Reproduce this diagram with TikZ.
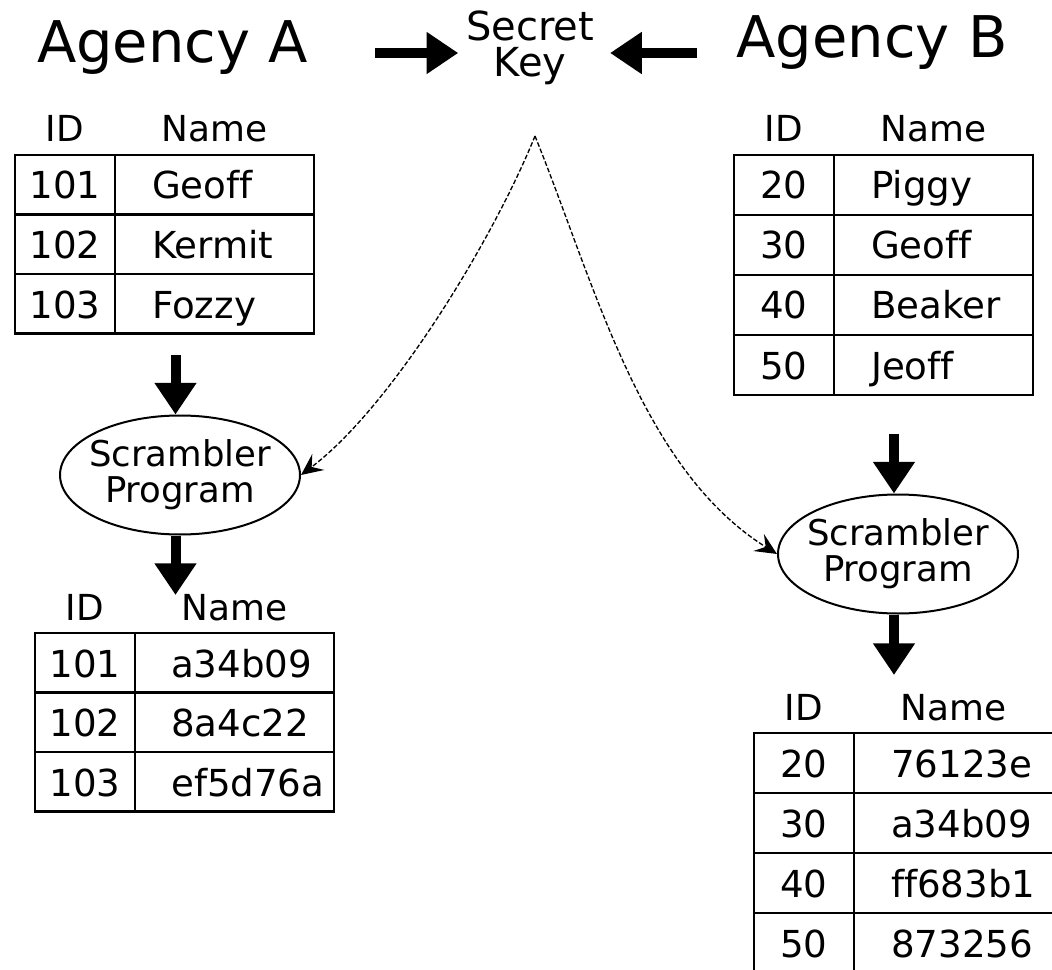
\documentclass[tikz,border=0pt]{standalone}
\usepackage{fontspec}
\setmainfont{DejaVu Sans}[Ligatures=NoCommon]
\usetikzlibrary{arrows.meta, shapes.geometric, calc}
\tikzset{
  every picture/.style={x=0.6pt, y=-0.6pt, line width=1.4pt},
  title/.style={font=\fontsize{34.5}{40}\selectfont, anchor=base, inner sep=0pt},
  keytext/.style={font=\fontsize{24}{21.8}\selectfont, align=center, inner ysep=0pt, inner xsep=4pt},
  colhead/.style={font=\fontsize{21.5}{26}\selectfont, anchor=base, inner sep=0pt},
  idtxt/.style={font=\fontsize{22.3}{26}\selectfont, anchor=base, inner sep=0pt},
  valtxt/.style={idtxt, anchor=base west},
  tab/.style={line width=1.5pt},
  scrambler/.style={ellipse, draw, line width=1.2pt, minimum width=144pt, minimum height=71.4pt,
    inner xsep=-6pt, inner ysep=0pt, align=center, font=\fontsize{21.3}{21.6}\selectfont},
  bigarrow/.style={-{Triangle[length=19pt, width=24pt]}, line width=6pt},
  keyarrow/.style={-{Stealth[length=13pt, width=12pt, inset=5pt]}, line width=0.8pt, dash pattern=on 2.8pt off 1.3pt},
}
\newcommand{\tgrid}[4]{ % x, y, rows, row height
  \draw[tab] (#1,#2) rectangle ++(299,#3*#4);
  \draw[tab] (#1+100,#2) -- ++(0,#3*#4);
  \foreach \r in {2,...,#3} \draw[tab] (#1,#2+\r*#4-#4) -- ++(299,0);
}

\begin{document}
\begin{tikzpicture}
  \useasboundingbox (0,0) rectangle (1052,970);
  \clip (0,0) rectangle (1052,970);
  % titles and key
  \node[title] (agA) at (172.5,63) {Agency A};
  \node[title] (agB) at (872,58) {Agency B};
  \node[keytext] (key) at (530,48) {Secret\\Key};
  \coordinate (ka) at (375,53);
  \coordinate (kb) at (697,53);
  \draw[bigarrow] (ka) -- (ka -| key.west);
  \draw[bigarrow, shorten >=5pt] (kb) -- (kb -| key.east);
  % agency A table
  \tgrid{15}{155}{3}{59.5}
  \node[colhead] (aIDh) at (65,142) {ID};
  \node[colhead] (aNameh) at (214.5,142) {Name};
  \foreach \i/\k/\v in {0/101/Geoff, 1/102/Kermit, 2/103/Fozzy} {
    \node[idtxt] (aid\i) at (65,155+59.5*\i+44) {\k};
    \node[valtxt] (aval\i) at (151,155+59.5*\i+44) {\v};
  }
  % agency B table
  \tgrid{734}{155}{4}{60}
  \node[colhead] (bIDh) at (784,142) {ID};
  \node[colhead] (bNameh) at (933.5,142) {Name};
  \foreach \i/\k/\v in {0/20/Piggy, 1/30/Geoff, 2/40/Beaker, 3/50/Jeoff} {
    \node[idtxt] (bid\i) at (784,155+60*\i+44) {\k};
    \node[valtxt] (bval\i) at (870,155+60*\i+44) {\v};
  }
  % scramblers
  \node[scrambler] (scrA) at (180,475) {Scrambler\\Program};
  \node[scrambler] (scrB) at (898,554) {Scrambler\\Program};
  \coordinate (a1) at (175.5,355);
  \coordinate (a2) at (175.5,595);
  \coordinate (b1) at (894,434);
  \coordinate (b2) at (894,675);
  \draw[bigarrow] (a1) -- (a1 |- scrA.north);
  \draw[bigarrow] (a2 |- scrA.south) -- (a2);
  \draw[bigarrow] (b1) -- (b1 |- scrB.north);
  \draw[bigarrow] (b2 |- scrB.south) -- (b2);
  % key to scramblers
  \coordinate (apex) at (535,136);
  \draw[keyarrow] (apex) to[out=-112, in=37, looseness=0.7] (scrA.east);
  \draw[keyarrow] (apex) to[out=-68, in=148, looseness=0.85] (scrB.west);
  % scrambled A
  \tgrid{35}{633}{3}{59.5}
  \node[colhead] (sIDh) at (85,620) {ID};
  \node[colhead] (sNameh) at (234.5,620) {Name};
  \foreach \i/\k/\v in {0/101/a34b09, 1/102/8a4c22, 2/103/ef5d76a} {
    \node[idtxt] (sid\i) at (85,633+59.5*\i+44) {\k};
    \node[valtxt] (sval\i) at (170,633+59.5*\i+44) {\v};
  }
  % scrambled B
  \tgrid{754}{733}{4}{60}
  \node[colhead] (tIDh) at (804,720) {ID};
  \node[colhead] (tNameh) at (953.5,720) {Name};
  \foreach \i/\k/\v in {0/20/76123e, 1/30/a34b09, 2/40/ff683b1, 3/50/873256} {
    \node[idtxt] (tid\i) at (804,733+60*\i+44) {\k};
    \node[valtxt] (tval\i) at (890,733+60*\i+44) {\v};
  }
\end{tikzpicture}
\end{document}
